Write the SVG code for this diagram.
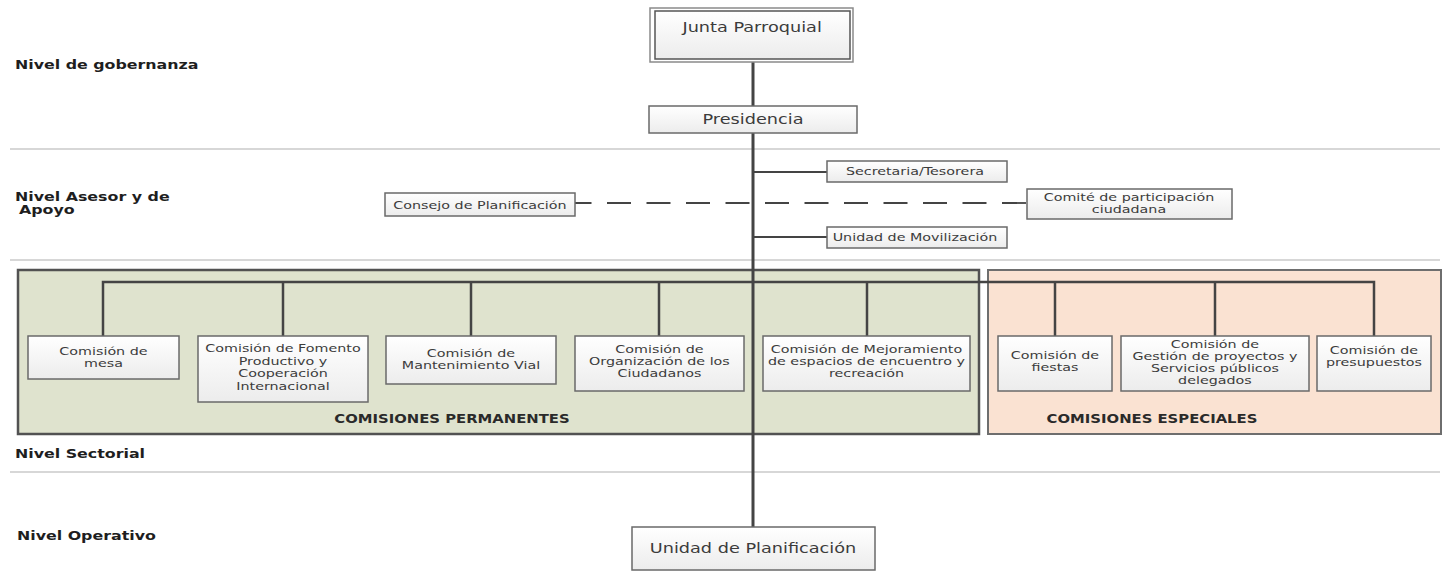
<svg xmlns="http://www.w3.org/2000/svg" width="1450" height="571" viewBox="0 0 1450 571">
<defs>
<linearGradient id="boxg" x1="0" y1="0" x2="0" y2="1">
<stop offset="0" stop-color="#ffffff"/>
<stop offset="1" stop-color="#ececec"/>
</linearGradient>
</defs>
<style>
text{font-family:"DejaVu Sans",sans-serif;fill:#3c3c3c;transform-box:fill-box;transform:scaleX(1.3)}
.c{text-anchor:middle;transform-origin:center}
.lbl{font-weight:bold;font-size:12.2px;fill:#1e1e1e;transform-origin:left center}
.big{font-size:13.6px}
.sm{font-size:11px}
.grp{font-weight:bold;font-size:11.4px;fill:#2a2a2a}
.box{fill:url(#boxg);stroke:#6a6a6a;stroke-width:1.5}
.sep{stroke:#cacaca;stroke-width:1.5}
.conn{stroke:#444;fill:none}
</style>

<g id="separators">
<line class="sep" x1="10" y1="149" x2="1440" y2="149"/>
<line class="sep" x1="10" y1="260" x2="1440" y2="260"/>
<line class="sep" x1="10" y1="472" x2="1440" y2="472"/>
</g>

<g id="levels">
<text class="lbl" x="15" y="69">Nivel de gobernanza</text>
<text class="lbl" x="15" y="201">Nivel Asesor y de</text>
<text class="lbl" x="19" y="214">Apoyo</text>
<text class="lbl" x="15" y="458">Nivel Sectorial</text>
<text class="lbl" x="17" y="540">Nivel Operativo</text>
</g>

<g id="comisiones-permanentes">
<rect x="18" y="270" width="961" height="164" fill="#dfe3ce" stroke="#525252" stroke-width="2.5"/>
<text class="grp c" x="452" y="423">COMISIONES PERMANENTES</text>
</g>
<g id="comisiones-especiales">
<rect x="988" y="270" width="453" height="164" fill="#fae2d2" stroke="#6e6e6e" stroke-width="2"/>
<text class="grp c" x="1152" y="423">COMISIONES ESPECIALES</text>
</g>

<g id="connectors">
<line class="conn" stroke-width="3" x1="753" y1="62" x2="753" y2="527"/>
<line class="conn" stroke-width="2" x1="753" y1="172" x2="827" y2="172"/>
<line class="conn" stroke-width="2" x1="753" y1="237" x2="827" y2="237"/>
<line class="conn" stroke="#555" stroke-width="1.8" stroke-dasharray="24 15.5" stroke-dashoffset="7.5" x1="575" y1="203" x2="1027" y2="203"/>
<path class="conn" stroke-width="2.5" d="M103 336V282H1374V336M283 282V336M471 282V336M659 282V336M867 282V336M1055 282V336M1215 282V336"/>
</g>

<g id="junta">
<rect x="650" y="8" width="203" height="54" fill="#fff" stroke="#8a8a8a" stroke-width="1.5"/>
<rect x="655" y="11" width="195" height="48" fill="url(#boxg)" stroke="#555" stroke-width="1.5"/>
<text class="big c" x="752" y="32">Junta Parroquial</text>
</g>

<g id="presidencia">
<rect class="box" x="649" y="106" width="208" height="27"/>
<text class="big c" x="753" y="124">Presidencia</text>
</g>

<g id="secretaria">
<rect class="box" x="827" y="161" width="180" height="21"/>
<text class="sm c" x="915" y="175">Secretaria/Tesorera</text>
</g>

<g id="movilizacion">
<rect class="box" x="827" y="227" width="180" height="21"/>
<text class="sm c" x="915" y="241">Unidad de Movilización</text>
</g>

<g id="consejo">
<rect class="box" x="385" y="193" width="190" height="23"/>
<text class="sm c" x="480" y="209">Consejo de Planificación</text>
</g>

<g id="comite">
<rect class="box" x="1027" y="189" width="205" height="30"/>
<text class="sm c" x="1129" y="201">Comité de participación</text>
<text class="sm c" x="1129" y="213">ciudadana</text>
</g>

<g id="mesa">
<rect class="box" x="28" y="336" width="151" height="43"/>
<text class="sm c" x="103.5" y="355">Comisión de</text>
<text class="sm c" x="103.5" y="367">mesa</text>
</g>

<g id="fomento">
<rect class="box" x="198" y="336" width="170" height="66"/>
<text class="sm c" x="283" y="352">Comisión de Fomento</text>
<text class="sm c" x="283" y="365">Productivo y</text>
<text class="sm c" x="283" y="377">Cooperación</text>
<text class="sm c" x="283" y="390">Internacional</text>
</g>

<g id="mantenimiento">
<rect class="box" x="386" y="336" width="170" height="48"/>
<text class="sm c" x="471" y="357">Comisión de</text>
<text class="sm c" x="471" y="369">Mantenimiento Vial</text>
</g>

<g id="organizacion">
<rect class="box" x="575" y="336" width="169" height="55"/>
<text class="sm c" x="659.5" y="353">Comisión de</text>
<text class="sm c" x="659.5" y="365">Organización de los</text>
<text class="sm c" x="659.5" y="377">Ciudadanos</text>
</g>

<g id="mejoramiento">
<rect class="box" x="763" y="336" width="207" height="55"/>
<text class="sm c" x="866.5" y="353">Comisión de Mejoramiento</text>
<text class="sm c" x="866.5" y="365">de espacios de encuentro y</text>
<text class="sm c" x="866.5" y="377">recreación</text>
</g>

<g id="fiestas">
<rect class="box" x="998" y="336" width="114" height="55"/>
<text class="sm c" x="1055" y="359">Comisión de</text>
<text class="sm c" x="1055" y="371">fiestas</text>
</g>

<g id="gestion">
<rect class="box" x="1121" y="336" width="188" height="55"/>
<text class="sm c" x="1215" y="348">Comisión de</text>
<text class="sm c" x="1215" y="360">Gestión de proyectos y</text>
<text class="sm c" x="1215" y="372">Servicios públicos</text>
<text class="sm c" x="1215" y="384">delegados</text>
</g>

<g id="presupuestos">
<rect class="box" x="1317" y="336" width="114" height="55"/>
<text class="sm c" x="1374" y="354">Comisión de</text>
<text class="sm c" x="1374" y="366">presupuestos</text>
</g>

<g id="planificacion">
<rect class="box" x="632" y="527" width="243" height="43"/>
<text class="big c" x="753" y="553">Unidad de Planificación</text>
</g>
</svg>
